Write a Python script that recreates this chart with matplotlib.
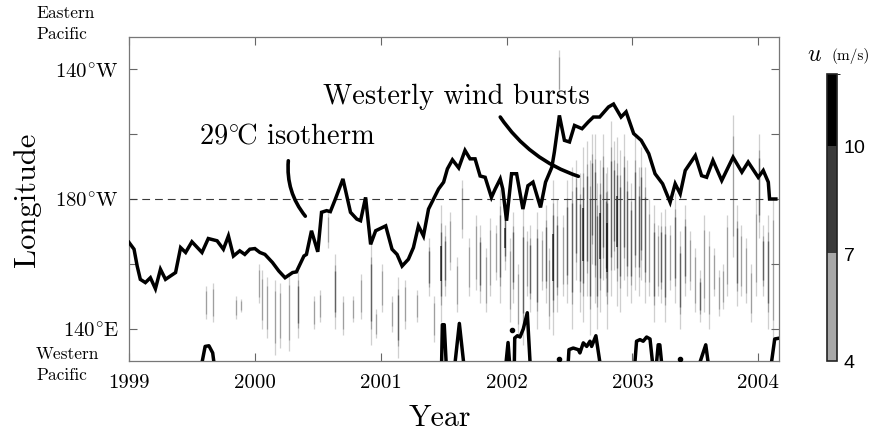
import matplotlib
matplotlib.use('Agg')
import matplotlib.pyplot as plt
import numpy as np
from matplotlib.colors import ListedColormap, BoundaryNorm
from matplotlib.cm import ScalarMappable

plt.rcParams['font.family'] = 'cmr10'
plt.rcParams['mathtext.fontset'] = 'cm'
plt.rcParams['axes.formatter.use_mathtext'] = True

#### 29C isotherm, eastern edge of the warm pool (decimal year, degrees east) ####
iso_year = [1999.00, 1999.04, 1999.065, 1999.09, 1999.13, 1999.17, 1999.21, 1999.25, 1999.29, 1999.37,
            1999.41, 1999.45, 1999.50, 1999.58, 1999.63, 1999.70, 1999.75, 1999.79, 1999.83, 1999.88,
            1999.92, 1999.96, 2000.00, 2000.04, 2000.08, 2000.14, 2000.19, 2000.24, 2000.30, 2000.33,
            2000.39, 2000.41, 2000.45, 2000.50, 2000.53, 2000.57, 2000.60, 2000.64, 2000.70, 2000.76,
            2000.81, 2000.84, 2000.88, 2000.92, 2000.96, 2001.04, 2001.09, 2001.13, 2001.17, 2001.22,
            2001.26, 2001.30, 2001.34, 2001.38, 2001.42, 2001.46, 2001.50, 2001.53, 2001.57, 2001.62,
            2001.67, 2001.71, 2001.75, 2001.79, 2001.83, 2001.88, 2001.91, 2001.95, 2001.97, 2002.00,
            2002.04, 2002.08, 2002.13, 2002.17, 2002.21, 2002.27, 2002.31, 2002.36, 2002.38, 2002.42,
            2002.46, 2002.50, 2002.54, 2002.60, 2002.65, 2002.69, 2002.74, 2002.81, 2002.85, 2002.91,
            2002.95, 2003.01, 2003.07, 2003.13, 2003.18, 2003.24, 2003.30, 2003.34, 2003.38, 2003.42,
            2003.50, 2003.55, 2003.59, 2003.64, 2003.71, 2003.80, 2003.87, 2003.92, 2004.00, 2004.04,
            2004.08, 2004.09, 2004.14]
iso_lon = [166.6, 164.5, 159.3, 155.2, 154.2, 155.7, 152.3, 158.3, 155.2, 157.3,
           165.0, 163.5, 166.8, 163.5, 167.8, 167.1, 164.5, 168.6, 162.4, 164.0,
           162.9, 164.5, 164.7, 163.5, 162.9, 160.4, 157.8, 155.7, 157.3, 157.5,
           162.4, 162.9, 170.2, 163.7, 175.9, 176.4, 176.1, 180.0, 186.2, 175.9,
           173.8, 173.3, 180.5, 166.0, 170.2, 171.7, 164.5, 162.9, 159.3, 161.4,
           165.0, 171.7, 168.6, 176.9, 180.0, 183.1, 185.2, 189.3, 192.1, 189.6,
           195.0, 192.4, 192.4, 187.1, 186.7, 180.5, 183.1, 186.2, 183.1, 173.3,
           187.8, 187.8, 176.9, 184.1, 185.2, 177.4, 185.2, 189.8, 194.5, 205.8,
           198.1, 197.6, 202.7, 201.7, 203.8, 205.3, 205.3, 208.4, 209.3, 205.3,
           206.9, 200.2, 198.1, 194.0, 187.8, 184.7, 179.0, 184.7, 181.6, 188.8,
           193.4, 187.2, 186.7, 191.9, 185.7, 192.9, 188.3, 191.4, 186.7, 188.8,
           185.2, 180.0, 180.0]

#### small closed 29C contours at the western edge ####
pool_year = [[1999.58, 1999.605, 1999.635, 1999.665, 1999.675],
             [2001.484, 2001.49, 2001.505, 2001.52],
             [2001.591, 2001.625, 2001.659],
             [2001.996, 2002.012, 2002.024],
             [2002.062, 2002.065, 2002.086, 2002.107, 2002.133, 2002.165, 2002.187],
             [2002.490, 2002.496, 2002.530, 2002.570, 2002.583, 2002.610, 2002.637, 2002.663, 2002.676, 2002.710, 2002.742],
             [2003.020, 2003.033, 2003.060, 2003.086, 2003.113, 2003.140, 2003.160],
             [2003.192, 2003.205, 2003.218, 2003.232],
             [2003.536, 2003.583, 2003.602],
             [2004.105, 2004.131, 2004.16]]
pool_lon = [[129.5, 134.5, 134.7, 132.5, 129.5],
            [129.5, 141.2, 141.2, 129.5],
            [129.5, 141.6, 129.5],
            [129.5, 135.7, 129.5],
            [129.5, 137.1, 137.8, 137.4, 139.9, 144.9, 129.5],
            [129.5, 133.5, 134.0, 133.5, 132.5, 135.6, 134.5, 136.1, 134.5, 137.8, 129.5],
            [129.5, 136.1, 136.6, 136.1, 137.4, 136.8, 129.5],
            [129.5, 135.0, 135.0, 129.5],
            [129.5, 135.0, 129.5],
            [129.5, 136.8, 137.0]]
dot_year = [2002.046, 2002.419, 2003.377]
dot_lon = [139.7, 130.6, 130.6]

#### westerly wind events: time, western / eastern extent, peak u (m/s) ####
burst_year = [1999.61, 1999.67, 1999.85, 1999.89, 2000.03, 2000.06, 2000.10, 2000.16, 2000.20, 2000.27,
              2000.34, 2000.47, 2000.52, 2000.58, 2000.64, 2000.70, 2000.78, 2000.84, 2000.92, 2000.96,
              2001.01, 2001.09, 2001.14, 2001.19, 2001.29, 2001.38, 2001.42, 2001.48, 2001.51, 2001.55,
              2001.61, 2001.65, 2001.70, 2001.76, 2001.79, 2001.84, 2001.87, 2001.92, 2001.95, 2001.99,
              2002.03, 2002.05, 2002.09, 2002.13, 2002.16, 2002.19, 2002.24, 2002.28, 2002.31, 2002.34,
              2002.37, 2002.40, 2002.42, 2002.45, 2002.48, 2002.52, 2002.55, 2002.58, 2002.61, 2002.64,
              2002.66, 2002.68, 2002.70, 2002.72, 2002.74, 2002.77, 2002.79, 2002.80, 2002.83, 2002.85,
              2002.88, 2002.90, 2002.93, 2002.96, 2002.99, 2003.02, 2003.05, 2003.07, 2003.10, 2003.13,
              2003.17, 2003.20, 2003.23, 2003.26, 2003.30, 2003.34, 2003.38, 2003.42, 2003.46, 2003.50,
              2003.54, 2003.57, 2003.61, 2003.65, 2003.69, 2003.72, 2003.75, 2003.80, 2003.83, 2003.86,
              2003.90, 2003.94, 2003.98, 2004.01, 2004.04, 2004.08, 2004.12]
burst_lo = [143, 142, 143, 145, 148, 140, 137, 132, 134, 133,
            137, 140, 142, 165, 140, 138, 142, 143, 135, 137,
            145, 139, 131, 140, 142, 150, 136, 142, 150, 158,
            145, 168, 150, 152, 148, 145, 150, 155, 148, 158,
            142, 148, 138, 135, 150, 145, 140, 152, 148, 140,
            138, 145, 212, 150, 148, 140, 155, 145, 142, 150,
            138, 160, 148, 140, 145, 155, 150, 140, 150, 158,
            147, 145, 155, 150, 148, 152, 150, 155, 148, 150,
            142, 150, 148, 142, 152, 148, 140, 150, 152, 145,
            142, 145, 140, 150, 144, 146, 150, 162, 147, 150,
            148, 142, 150, 168, 150, 140, 136]
burst_hi = [153, 154, 150, 149, 160, 158, 156, 155, 154, 157,
            158, 150, 152, 176, 163, 150, 150, 157, 167, 146,
            160, 150, 156, 155, 152, 168, 150, 178, 172, 176,
            162, 186, 168, 175, 172, 165, 174, 172, 183, 178,
            168, 176, 160, 178, 170, 172, 176, 170, 178, 165,
            186, 180, 226, 175, 186, 190, 192, 188, 196, 198,
            192, 200, 200, 185, 192, 200, 188, 190, 204, 198,
            199, 195, 200, 192, 185, 199, 190, 196, 190, 180,
            178, 172, 176, 177, 172, 182, 170, 178, 170, 165,
            158, 175, 170, 165, 158, 160, 175, 206, 178, 172,
            168, 160, 180, 200, 172, 175, 180]
burst_u = [6.5, 6.5, 5.5, 5.0, 5.5, 5.5, 5.5, 5.5, 5.5, 6.0,
           8.5, 5.5, 6.0, 5.0, 7.5, 5.5, 5.5, 6.0, 9.0, 5.0,
           6.0, 5.5, 7.5, 6.0, 5.5, 7.5, 5.5, 10.5, 8.0, 6.0,
           6.0, 5.0, 6.0, 6.5, 7.5, 6.0, 6.5, 6.0, 9.5, 10.5,
           6.5, 7.5, 6.0, 9.5, 6.0, 7.0, 8.5, 6.0, 7.5, 6.5,
           10.0, 8.0, 5.0, 6.5, 8.5, 9.5, 7.0, 8.0, 10.5, 9.0,
           8.0, 7.0, 9.5, 7.5, 10.5, 8.0, 7.0, 10.5, 8.5, 9.5,
           10.0, 8.5, 9.0, 7.5, 7.0, 8.5, 7.0, 8.0, 7.5, 6.5,
           9.5, 6.5, 7.0, 9.5, 6.5, 7.0, 9.5, 9.0, 6.0, 6.0,
           7.0, 6.5, 6.5, 5.5, 6.5, 6.0, 6.0, 6.0, 7.0, 6.5,
           6.0, 6.0, 6.5, 8.5, 7.0, 7.0, 6.5]

speed_levels = [4, 7, 10, 12]
speed_colors = ['#a8a8a8', '#3a3a3a', '#000000']

year_ticks = [1999, 2000, 2001, 2002, 2003, 2004]
lon_ticks = [140, 160, 180, 200, 220]
lon_labels = [r'$140^{\circ}\mathrm{E}$', '', r'$180^{\circ}\mathrm{W}$', '', r'$140^{\circ}\mathrm{W}$']


def main():
    fig = plt.figure(figsize=(8.76, 4.35), dpi=100)
    ax = fig.add_axes([129 / 876, 73 / 435, 650 / 876, 324 / 435])

    # wind bursts: faint full extent, tapering to a darker core for stronger events
    t = np.array(burst_year)
    lo = np.array(burst_lo, dtype=float)
    hi = np.array(burst_hi, dtype=float)
    u = np.array(burst_u)
    mid = (lo + hi) / 2
    half = (hi - lo) / 2
    ax.vlines(t, lo, hi, color=speed_colors[0], lw=0.9, alpha=0.55, zorder=1)
    ax.vlines(t, mid - 0.7 * half, mid + 0.7 * half, color='#707070', lw=0.9, alpha=0.5, zorder=1)
    m = u >= speed_levels[1]
    ax.vlines(t[m], mid[m] - 0.55 * half[m], mid[m] + 0.55 * half[m],
              color=speed_colors[1], lw=1.0, alpha=0.6, zorder=1)
    m = u >= speed_levels[2]
    ax.vlines(t[m], mid[m] - 0.3 * half[m], mid[m] + 0.3 * half[m],
              color=speed_colors[2], lw=1.1, alpha=0.75, zorder=1)

    ax.axhline(180, color='#3a3a3a', lw=0.8, ls=(0, (7, 4.5)), zorder=2)

    ax.plot(iso_year, iso_lon, color='black', lw=2.5, solid_joinstyle='miter', zorder=3)
    for yy, ll in zip(pool_year, pool_lon):
        ax.plot(yy, ll, color='black', lw=2.5, zorder=3)
    ax.plot(dot_year, dot_lon, 'o', color='black', ms=3, zorder=3)

    ax.set_xlim(1999, 2004.165)
    ax.set_ylim(130, 230)
    ax.set_xticks(year_ticks)
    ax.set_xticklabels([str(y) for y in year_ticks])
    ax.set_yticks(lon_ticks)
    ax.set_yticklabels(lon_labels)
    ax.tick_params(direction='in', top=True, right=True, length=6, width=0.8,
                   color='#666666', labelsize=15)
    ax.tick_params(axis='x', pad=9)
    ax.tick_params(axis='y', pad=7)
    for s in ax.spines.values():
        s.set_color('#777777')
        s.set_linewidth(0.9)

    ax.set_xlabel('Year', fontsize=21.5)
    ax.set_ylabel('Longitude', fontsize=22)
    ax.xaxis.set_label_coords(0.478, -0.13)
    ax.yaxis.set_label_coords(-0.135, 0.5)

    # annotations
    ax.text(2000.258, 199.5, r'29$^{\circ}\!$C isotherm', fontsize=20.5, ha='center', va='center')
    ax.annotate('', xy=(2000.401, 174.7), xytext=(2000.266, 191.8),
                arrowprops=dict(arrowstyle='-', lw=2.6, color='black',
                                connectionstyle='arc3,rad=0.2', shrinkA=0, shrinkB=0))
    ax.text(2001.60, 211.9, 'Westerly wind bursts', fontsize=20.5, ha='center', va='center')
    ax.annotate('', xy=(2002.571, 187.0), xytext=(2001.95, 205.3),
                arrowprops=dict(arrowstyle='-', lw=2.6, color='black',
                                connectionstyle='arc3,rad=0.17', shrinkA=0, shrinkB=0))

    fig.text(36 / 876, 1 - 6 / 435, 'Eastern\nPacific', fontsize=12.5, ha='left', va='top', linespacing=1.45)
    fig.text(36 / 876, 1 - 347 / 435, 'Western\nPacific', fontsize=12.5, ha='left', va='top', linespacing=1.45)

    # colour bar
    cmap = ListedColormap(speed_colors)
    norm = BoundaryNorm(speed_levels, cmap.N)
    cax = fig.add_axes([827 / 876, 73 / 435, 10 / 876, 287 / 435])
    cb = fig.colorbar(ScalarMappable(norm=norm, cmap=cmap), cax=cax,
                      spacing='proportional', ticks=speed_levels[:3])
    cb.outline.set_linewidth(1.2)
    cb.outline.set_edgecolor('#222222')
    cax.tick_params(length=0, pad=4)
    for lab in cax.get_yticklabels():
        lab.set_fontfamily('Liberation Sans')
        lab.set_fontsize(14)
    fig.text(814 / 876, 1 - 55 / 435, r'$\mathbf{\mathit{u}}$', fontsize=17, ha='center', va='center')
    fig.text(851 / 876, 1 - 56 / 435, '(m/s)', fontsize=11, ha='center', va='center')

    fig.savefig('out.png', dpi=100)


if __name__ == '__main__':
    main()
